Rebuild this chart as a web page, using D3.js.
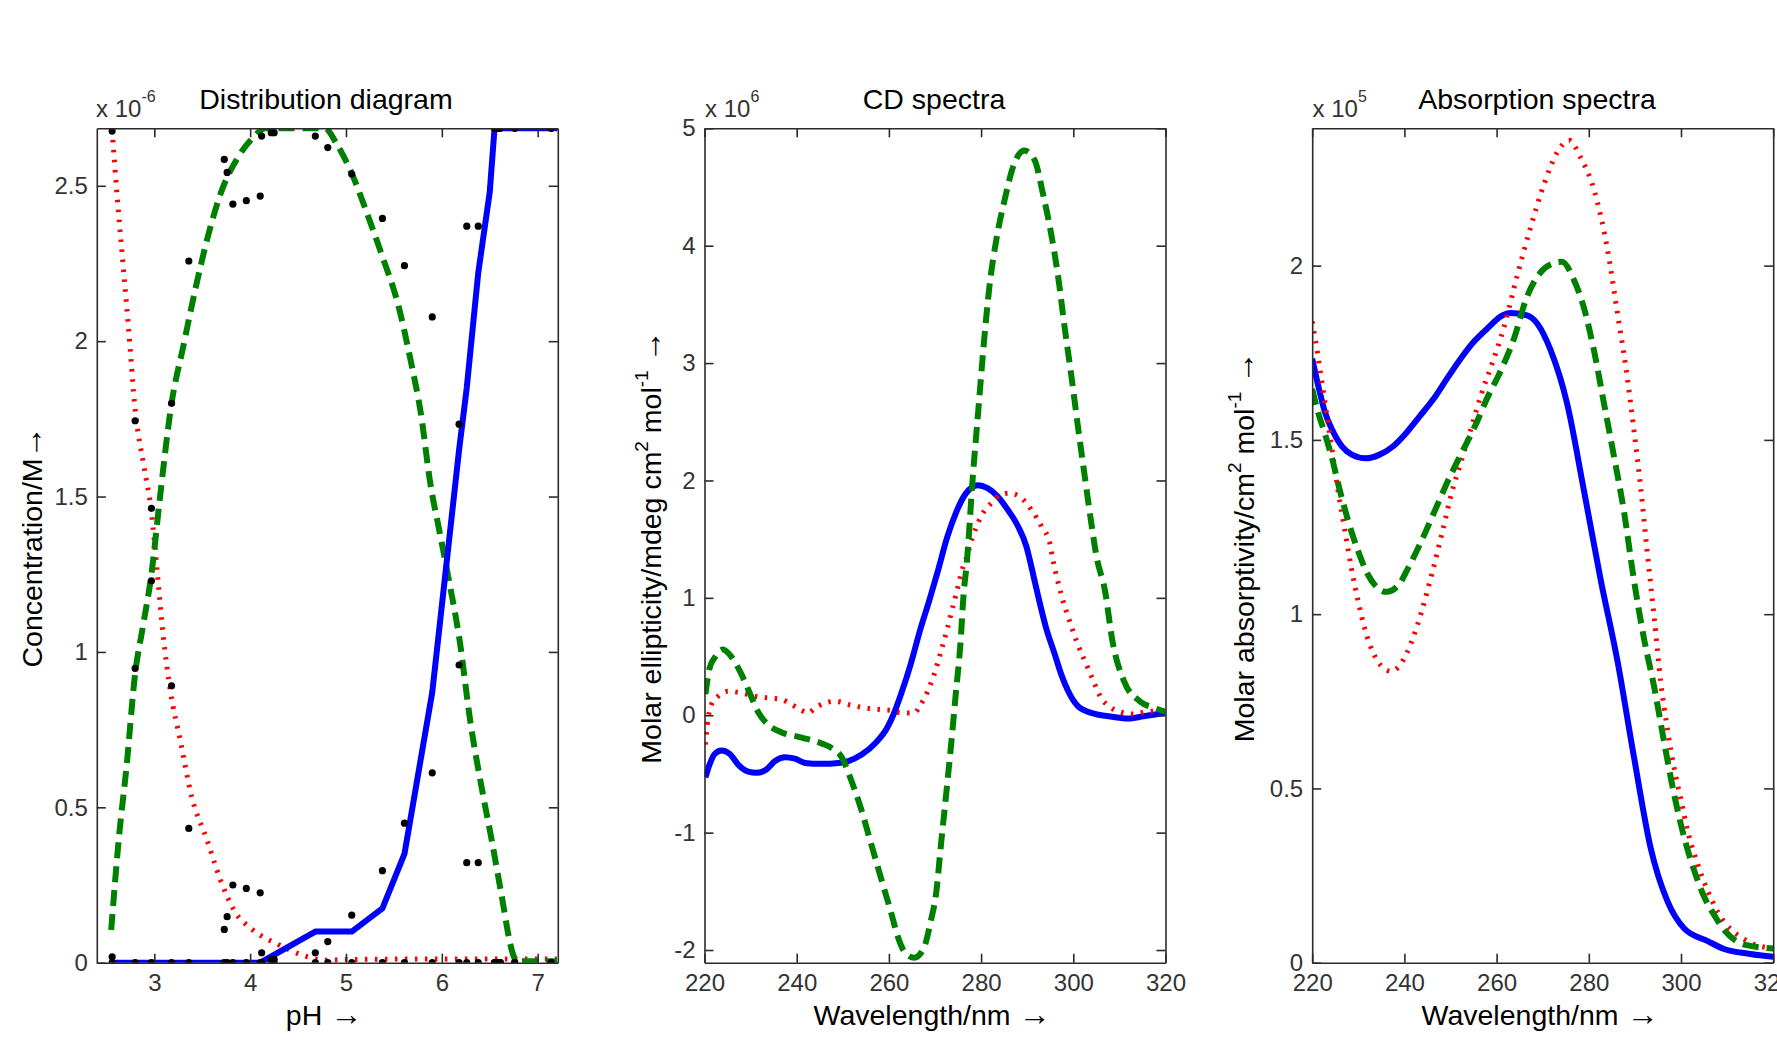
<!DOCTYPE html>
<html><head><meta charset="utf-8">
<script src="https://cdn.jsdelivr.net/npm/d3@7"></script>
<style>
body{margin:0;background:#fff;}
text{font-family:"Liberation Sans",Arial,Helvetica,sans-serif;}
</style>
</head><body><svg id="chart"></svg>
<script>
// ---------------- Panel 1: Distribution diagram ----------------
const distXTicks = [3, 4, 5, 6, 7];
const distYTicks = [0, 0.5, 1, 1.5, 2, 2.5];
// experimental points (pH, three species, x 1e-6 M)
const dotPH = [2.56,2.80,2.97,3.18,3.36,3.73,3.76,3.82,3.96,4.105,4.12,4.22,4.25,4.68,4.81,5.06,5.38,5.61,5.90,6.18,6.26,6.38,6.55,6.58,6.61,6.76,7.14];
const dotA  = [2.676,1.744,1.462,0.891,0.432,0.107,0.148,0.25,0.239,0.225,0.032,0.011,0.011,0,0,0,0,0,0,0,0,0,0,0,0,0,0];
const dotB  = [0.019,0.947,1.229,1.80,2.258,2.585,2.543,2.441,2.452,2.467,2.66,2.671,2.671,2.66,2.623,2.538,2.395,2.243,2.078,0.958,0.322,0.322,0,0,0,0,0];
const dotC  = [0,0,0,0,0,0,0,0,0,0,0,0,0,0.032,0.068,0.153,0.296,0.449,0.611,1.733,2.370,2.370,2.685,2.685,2.685,2.685,2.685];
// model curves
const redPH   = [2.56,2.61,2.67,2.73,2.80,2.89,2.97,3.03,3.09,3.17,3.27,3.39,3.55,3.69,3.83,4.03,4.27,4.54,4.78,5.0,6.0,7.2];
const redConc = [2.68,2.476,2.261,2.046,1.78,1.60,1.45,1.26,1.06,0.87,0.717,0.534,0.395,0.266,0.17,0.105,0.062,0.025,0.008,0.01,0.012,0.012];
const greenPH   = [2.55,2.63,2.71,2.80,2.88,2.97,3.06,3.18,3.30,3.43,3.57,3.71,3.87,4.03,4.16,4.78,4.90,5.06,5.22,5.38,5.54,5.68,5.78,5.88,5.98,6.08,6.18,6.30,6.42,6.52,6.62,6.74,6.78,7.2];
const greenConc = [0.105,0.40,0.63,0.93,1.08,1.25,1.50,1.80,1.98,2.17,2.35,2.49,2.59,2.655,2.685,2.685,2.636,2.54,2.411,2.272,2.122,1.93,1.77,1.542,1.381,1.221,1.049,0.77,0.556,0.395,0.223,0.03,0.005,0.005];
const bluePH   = [2.56,4.105,4.68,5.06,5.38,5.61,5.90,6.18,6.26,6.38,6.50,6.55,7.21];
const blueConc = [0,0,0.10,0.10,0.175,0.35,0.87,1.65,1.85,2.22,2.48,2.685,2.685];

// ---------------- Panel 2: CD spectra (x 1e6) ----------------
const cdXTicks = [220, 240, 260, 280, 300, 320];
const cdYTicks = [-2, -1, 0, 1, 2, 3, 4, 5];
const cdGreenWl  = [220.2,221.1,222.2,224.0,225.8,228.0,229.8,231.6,233.8,236.4,241.1,245.4,247.6,249.8,251.6,253.9,256.4,258.9,260.4,261.8,263.3,265.5,267.6,269.1,270.2,271.3,272.4,273.5,274.5,275.5,276.2,276.9,278.2,279.4,280.6,281.8,283.3,285.1,287.2,289.4,291.6,293.4,295.2,296.7,298.1,299.6,301.0,302.5,303.8,305.0,306.9,308.5,311.0,314.4,317.7,320];
const cdGreenVal = [0.18,0.40,0.49,0.56,0.50,0.35,0.19,0.03,-0.08,-0.14,-0.19,-0.24,-0.28,-0.36,-0.53,-0.79,-1.13,-1.47,-1.67,-1.87,-2.01,-2.065,-1.98,-1.75,-1.53,-1.10,-0.68,-0.25,0.18,0.60,1.03,1.30,2.03,2.60,3.17,3.65,4.05,4.39,4.70,4.81,4.73,4.445,4.10,3.74,3.31,2.885,2.46,2.03,1.665,1.36,1.055,0.63,0.29,0.12,0.06,0.03];
const cdBlueWl  = [220.2,221.1,222.2,223.7,225.5,227.3,229.5,231.3,233.5,235.3,237.5,239.6,241.8,245.4,249.1,251.2,254.1,257.1,259.6,261.0,262.6,264.7,266.9,268.7,270.6,272.7,274.5,276.7,279.3,281.4,283.6,285.8,288.0,289.8,291.0,292.3,294.1,296.0,297.4,298.9,301.0,303.9,305.2,308,311.9,315.2,320];
const cdBlueVal = [-0.53,-0.42,-0.33,-0.30,-0.33,-0.42,-0.48,-0.49,-0.46,-0.39,-0.357,-0.37,-0.406,-0.414,-0.406,-0.39,-0.334,-0.236,-0.108,0.006,0.176,0.432,0.743,0.97,1.226,1.523,1.72,1.89,1.96,1.934,1.864,1.75,1.61,1.44,1.25,1.027,0.743,0.517,0.346,0.204,0.077,0.02,0.006,-0.01,-0.028,-0.009,0.02];
const cdRedWl  = [220.2,220.6,221.5,222.9,225.1,228.0,230.9,233.8,236.7,238.9,241.1,242.5,244.0,246.2,248.4,251.2,254.9,258.5,260.7,262.6,265.5,266.9,268.4,269.8,271.3,272.7,273.8,274.9,276.0,276.7,278.2,280.0,282.2,284.3,286.1,288.3,290.9,293.1,294.9,295.6,297.4,299.2,301.0,303.2,304.7,306.0,308.0,310.0,313.0,316.0,320.0];
const cdRedVal = [-0.25,-0.08,0.09,0.16,0.204,0.19,0.162,0.147,0.134,0.091,0.04,0.02,0.062,0.105,0.119,0.091,0.062,0.048,0.04,0.02,0.02,0.091,0.204,0.346,0.545,0.743,0.913,1.083,1.253,1.325,1.523,1.694,1.807,1.878,1.892,1.864,1.75,1.61,1.466,1.32,1.027,0.80,0.60,0.40,0.26,0.15,0.07,0.03,0.01,0.03,0.04];

// ---------------- Panel 3: Absorption spectra (x 1e5) ----------------
const abXTicks = [220, 240, 260, 280, 300, 320];
const abYTicks = [0, 0.5, 1, 1.5, 2];
const abBlueWl  = [220.0,221.3,222.8,224.3,226.5,228.7,231.6,234.5,237.5,240.4,243.4,246.3,249.2,252.2,255.1,258.1,261.0,262.9,266.6,268.8,271.7,275.3,278.9,282.6,286.2,289.8,293.4,297.1,300.7,305.8,309.2,315,320];
const abBlueVal = [1.733,1.656,1.578,1.53,1.481,1.457,1.447,1.457,1.481,1.52,1.569,1.617,1.675,1.733,1.782,1.821,1.855,1.864,1.857,1.834,1.758,1.604,1.358,1.097,0.867,0.59,0.33,0.175,0.098,0.062,0.04,0.025,0.017];
const abGreenWl  = [220.0,221.3,222.7,224.2,226.0,227.8,230.0,232.1,234.3,236.1,238.7,240.8,243.7,246.6,249.5,252.4,255.3,258.2,260.6,263.7,266.6,269.5,272.4,274.2,276.8,278.9,281.1,283.3,285.5,287.6,289.8,292.0,294.2,296.3,298.5,300.7,302.8,305.0,307.2,309.1,314,320];
const abGreenVal = [1.646,1.578,1.52,1.452,1.355,1.268,1.18,1.113,1.074,1.064,1.083,1.132,1.21,1.297,1.384,1.462,1.539,1.627,1.69,1.788,1.911,1.98,2.007,2.011,1.958,1.881,1.758,1.604,1.45,1.297,1.097,0.928,0.79,0.636,0.483,0.359,0.267,0.19,0.137,0.098,0.051,0.041];
const abRedWl  = [220.0,221.0,222.0,223.1,224.2,225.6,227.1,228.5,230.0,231.4,233.2,235.4,237.2,239.4,241.5,243.7,245.9,248.1,250.2,252.4,254.6,256.8,258.9,261.5,264.5,267.4,270.3,273.2,275.7,278.2,281.1,284.0,286.2,288.0,289.8,291.3,292.7,294.2,295.6,297.1,298.5,300.0,301.5,303.6,305.8,308.0,314,320];
const abRedVal = [1.84,1.762,1.675,1.578,1.481,1.355,1.239,1.132,1.035,0.958,0.89,0.846,0.836,0.861,0.919,1.006,1.113,1.229,1.345,1.442,1.539,1.636,1.714,1.819,1.973,2.111,2.234,2.326,2.36,2.311,2.219,2.05,1.865,1.712,1.527,1.358,1.174,0.989,0.805,0.667,0.559,0.467,0.375,0.283,0.206,0.145,0.065,0.04];

// ---------------- drawing ----------------
const W = 1777, H = 1060;
const svg = d3.select('#chart').attr('width', W).attr('height', H);
svg.append('rect').attr('width', W).attr('height', H).attr('fill', '#fff');

const plotTop = 128.3, plotBottom = 962.7, plotW = 461;
const lefts = [96.8, 704.5, 1312.2];
const axisColor = '#2b2b2b';
const tickFont = 24, labelFont = 28.5;

const STYLE = {
  blue:  {stroke: '#0000ff', width: 6, dash: null},
  green: {stroke: '#008000', width: 6, dash: '16,8'},
  red:   {stroke: '#ff0000', width: 5, dash: '2.5,7.5'}
};

function makePanel(i, xDomain, yDomain) {
  const x0 = lefts[i];
  const x = d3.scaleLinear().domain(xDomain).range([x0, x0 + plotW]);
  const y = d3.scaleLinear().domain(yDomain).range([plotBottom, plotTop]);
  const g = svg.append('g');
  const clipId = 'clip' + i;
  svg.append('clipPath').attr('id', clipId).append('rect')
    .attr('x', x0).attr('y', plotTop).attr('width', plotW).attr('height', plotBottom - plotTop);
  const plot = g.append('g').attr('clip-path', `url(#${clipId})`);
  return {x, y, g, plot, x0};
}

function drawAxes(p, xTicks, yTicks) {
  const fmt = d => String(d);
  const bottom = p.g.append('g').attr('transform', `translate(0,${plotBottom})`)
    .call(d3.axisBottom(p.x).tickValues(xTicks).tickSize(-9).tickSizeOuter(0).tickPadding(11).tickFormat(fmt));
  const topA = p.g.append('g').attr('transform', `translate(0,${plotTop})`)
    .call(d3.axisTop(p.x).tickValues(xTicks).tickSize(-9).tickSizeOuter(0).tickFormat(''));
  const left = p.g.append('g').attr('transform', `translate(${p.x0},0)`)
    .call(d3.axisLeft(p.y).tickValues(yTicks).tickSize(-9).tickSizeOuter(0).tickPadding(9).tickFormat(fmt));
  const right = p.g.append('g').attr('transform', `translate(${p.x0 + plotW},0)`)
    .call(d3.axisRight(p.y).tickValues(yTicks).tickSize(-9).tickSizeOuter(0).tickFormat(''));
  [bottom, topA, left, right].forEach(a => {
    a.select('.domain').attr('stroke', axisColor).attr('stroke-width', 1.6);
    a.selectAll('.tick line').attr('stroke', axisColor).attr('stroke-width', 1.6);
    a.selectAll('.tick text').attr('fill', '#333').attr('font-size', tickFont)
      .attr('font-family', '"Liberation Sans",Arial,sans-serif');
  });
}

function drawLine(p, xs, ys, style, curve) {
  const s = STYLE[style];
  const line = d3.line().x((d, k) => p.x(xs[k])).y((d, k) => p.y(ys[k])).curve(curve || d3.curveMonotoneX);
  const path = p.plot.append('path').datum(xs).attr('d', line)
    .attr('fill', 'none').attr('stroke', s.stroke).attr('stroke-width', s.width)
    .attr('stroke-linejoin', 'round');
  if (s.dash) path.attr('stroke-dasharray', s.dash);
}

function multiplier(x, exp) {
  const t = svg.append('text').attr('x', x).attr('y', 116.5).attr('font-size', 24).attr('fill', '#333');
  t.append('tspan').text('x 10');
  t.append('tspan').attr('dy', -15).attr('font-size', 16).text(exp);
}

function title(x, txt) {
  svg.append('text').attr('x', x).attr('y', 108.5).attr('text-anchor', 'middle')
    .attr('font-size', labelFont).attr('fill', '#000').text(txt);
}

function xLabel(x, txt) {
  const t = svg.append('text').attr('x', x).attr('y', 1024.5).attr('text-anchor', 'middle')
    .attr('font-size', labelFont).attr('fill', '#000');
  t.append('tspan').text(txt + ' ');
  t.append('tspan').attr('font-size', 32).text('\u2192');
}

function yLabel(xBase, parts) {
  const t = svg.append('text').attr('transform', `translate(${xBase},547) rotate(-90)`)
    .attr('text-anchor', 'middle').attr('font-size', labelFont).attr('fill', '#000');
  parts.forEach(pt => {
    const ts = t.append('tspan').text(pt.t);
    if (pt.sup) ts.attr('font-size', 19).attr('dy', -13);
    if (pt.down) ts.attr('dy', 13);
    if (pt.arrow) ts.attr('font-size', 32);
  });
}

// Panel 1
const p1 = makePanel(0, [2.4, 7.21], [0, 2.685]);
drawLine(p1, redPH, redConc, 'red');
drawLine(p1, greenPH, greenConc, 'green');
drawLine(p1, bluePH, blueConc, 'blue', d3.curveLinear);
[dotA, dotB, dotC].forEach(arr => {
  p1.plot.append('g').selectAll('circle').data(dotPH).join('circle')
    .attr('cx', d => p1.x(d)).attr('cy', (d, k) => p1.y(arr[k])).attr('r', 3.6).attr('fill', '#000');
});
drawAxes(p1, distXTicks, distYTicks);

// Panel 2
const p2 = makePanel(1, [220, 320], [-2.108, 5]);
drawLine(p2, cdBlueWl, cdBlueVal, 'blue');
drawLine(p2, cdRedWl, cdRedVal, 'red');
drawLine(p2, cdGreenWl, cdGreenVal, 'green');
drawAxes(p2, cdXTicks, cdYTicks);

// Panel 3
const p3 = makePanel(2, [220, 320], [0, 2.394]);
drawLine(p3, abBlueWl, abBlueVal, 'blue');
drawLine(p3, abRedWl, abRedVal, 'red');
drawLine(p3, abGreenWl, abGreenVal, 'green');
drawAxes(p3, abXTicks, abYTicks);

// texts
multiplier(96, '-6');
multiplier(705, '6');
multiplier(1312.5, '5');
title(326, 'Distribution diagram');
title(934, 'CD spectra');
title(1537, 'Absorption spectra');
xLabel(324, 'pH');
xLabel(932, 'Wavelength/nm');
xLabel(1540, 'Wavelength/nm');
yLabel(42, [{t: 'Concentration/M'}, {t: '\u2192', arrow: true}]);
yLabel(661, [{t: 'Molar ellipticity/mdeg cm'}, {t: '2', sup: true}, {t: ' mol', down: true}, {t: '-1', sup: true}, {t: ' ', down: true}, {t: '\u2192', arrow: true}]);
yLabel(1254, [{t: 'Molar absorptivity/cm'}, {t: '2', sup: true}, {t: ' mol', down: true}, {t: '-1', sup: true}, {t: ' ', down: true}, {t: '\u2192', arrow: true}]);
</script>
</body></html>
